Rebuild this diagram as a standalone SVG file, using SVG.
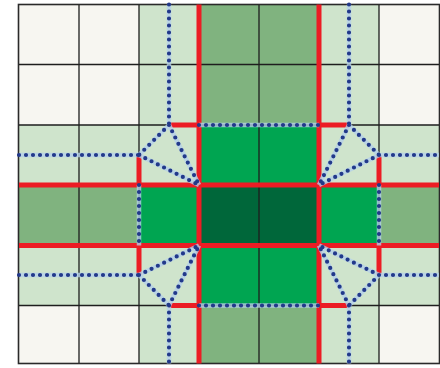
<svg xmlns="http://www.w3.org/2000/svg" width="440" height="368" viewBox="0 0 440 368">
<style>
.w{fill:#f7f6f1}.l{fill:#cfe4cc}.m{fill:#80b37f}.b{fill:#00a551}.d{fill:#00673a}
.grid{stroke:#1e1e1e;stroke-width:1.3;fill:none}
.red{stroke:#ec1c24;stroke-width:5;fill:none}
.halo{stroke:#b4cfea;stroke-width:4.5;fill:none;stroke-opacity:0.8}
.dot{stroke:#22398a;stroke-width:4.2;fill:none;stroke-linecap:round;stroke-dasharray:0 7}
</style>
<rect x="0" y="0" width="440" height="368" fill="#ffffff"/>
<g id="cells">
<rect class="w" x="19" y="4.5" width="60" height="60"/><rect class="w" x="79" y="4.5" width="60" height="60"/><rect class="l" x="139" y="4.5" width="60" height="60"/><rect class="m" x="199" y="4.5" width="60" height="60"/><rect class="m" x="259" y="4.5" width="60" height="60"/><rect class="l" x="319" y="4.5" width="60" height="60"/><rect class="w" x="379" y="4.5" width="60" height="60"/>
<rect class="w" x="19" y="64.5" width="60" height="60.5"/><rect class="w" x="79" y="64.5" width="60" height="60.5"/><rect class="l" x="139" y="64.5" width="60" height="60.5"/><rect class="m" x="199" y="64.5" width="60" height="60.5"/><rect class="m" x="259" y="64.5" width="60" height="60.5"/><rect class="l" x="319" y="64.5" width="60" height="60.5"/><rect class="w" x="379" y="64.5" width="60" height="60.5"/>
<rect class="l" x="19" y="125" width="60" height="60"/><rect class="l" x="79" y="125" width="60" height="60"/><rect class="l" x="139" y="125" width="60" height="60"/><rect class="b" x="199" y="125" width="60" height="60"/><rect class="b" x="259" y="125" width="60" height="60"/><rect class="l" x="319" y="125" width="60" height="60"/><rect class="l" x="379" y="125" width="60" height="60"/>
<rect class="m" x="19" y="185" width="60" height="60.5"/><rect class="m" x="79" y="185" width="60" height="60.5"/><rect class="b" x="139" y="185" width="60" height="60.5"/><rect class="d" x="199" y="185" width="60" height="60.5"/><rect class="d" x="259" y="185" width="60" height="60.5"/><rect class="b" x="319" y="185" width="60" height="60.5"/><rect class="m" x="379" y="185" width="60" height="60.5"/>
<rect class="l" x="19" y="245.5" width="60" height="60"/><rect class="l" x="79" y="245.5" width="60" height="60"/><rect class="l" x="139" y="245.5" width="60" height="60"/><rect class="b" x="199" y="245.5" width="60" height="60"/><rect class="b" x="259" y="245.5" width="60" height="60"/><rect class="l" x="319" y="245.5" width="60" height="60"/><rect class="l" x="379" y="245.5" width="60" height="60"/>
<rect class="w" x="19" y="305.5" width="60" height="58"/><rect class="w" x="79" y="305.5" width="60" height="58"/><rect class="l" x="139" y="305.5" width="60" height="58"/><rect class="m" x="199" y="305.5" width="60" height="58"/><rect class="m" x="259" y="305.5" width="60" height="58"/><rect class="l" x="319" y="305.5" width="60" height="58"/><rect class="w" x="379" y="305.5" width="60" height="58"/>
</g>
<g id="grid" class="grid">
<path d="M79 4.5V363.5M139 4.5V363.5M199 4.5V363.5M259 4.5V363.5M319 4.5V363.5M379 4.5V363.5M19 64.5H439M19 125H439M19 185H439M19 245.5H439M19 305.5H439"/>
<rect x="18.5" y="4.5" width="421" height="359" stroke-width="1.6" stroke="#2a2a2a"/>
</g>
<g id="red-lines" class="red">
<path d="M199 4.5V363.5M319 4.5V363.5M19 185H439M19 245.5H439"/>
<path d="M169 125H199M319 125H349M139 155V185M379 155V185M139 245.5V275M379 245.5V275M169 305.5H199M319 305.5H349"/>
</g>
<g id="connectors">
<g class="halo">
<path d="M169 4.5V125M349 4.5V125M169 305.5V363.5M349 305.5V363.5M19 155H139M379 155H439M19 275H139M379 275H439M199 125H319M199 305.5H319M139 185V245.5M379 185V245.5M169 125L139 155M169 125L199 185M139 155L199 185M349 125L379 155M349 125L319 185M379 155L319 185M139 275L199 245.5M139 275L169 305.5M169 305.5L199 245.5M379 275L319 245.5M379 275L349 305.5M349 305.5L319 245.5"/>
</g>
<g class="dot">
<path d="M169 4.5V125M349 4.5V125M169 305.5V363.5M349 305.5V363.5M19 155H139M379 155H439M19 275H139M379 275H439M199 125H319M199 305.5H319M139 185V245.5M379 185V245.5M169 125L139 155M169 125L199 185M139 155L199 185M349 125L379 155M349 125L319 185M379 155L319 185M139 275L199 245.5M139 275L169 305.5M169 305.5L199 245.5M379 275L319 245.5M379 275L349 305.5M349 305.5L319 245.5"/>
</g>
</g>
</svg>
